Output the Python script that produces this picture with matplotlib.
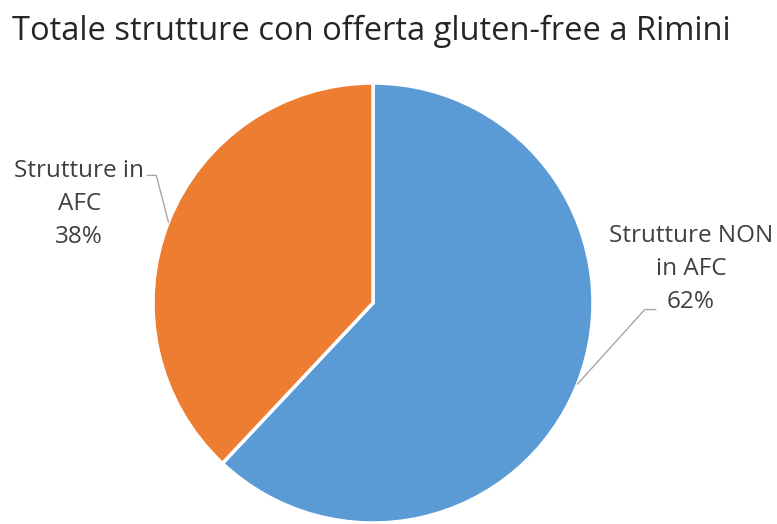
import numpy as np
import matplotlib
matplotlib.use("Agg")
import matplotlib.pyplot as plt

plt.rcParams['font.family'] = ['Open Sans', 'DejaVu Sans']

# dati
categorie = ['Strutture NON\nin AFC', 'Strutture in\nAFC']
percentuali = [62, 38]
colori = ['#5B9BD5', '#ED7D31']

fig = plt.figure(figsize=(7.77, 5.24), dpi=100)
ax = fig.add_axes([0, 0, 1, 1])

wedges, _ = ax.pie(percentuali, colors=colori, startangle=90, counterclock=False,
                   wedgeprops=dict(edgecolor='white', linewidth=2.5))

# area visibile: centro torta a (373, 303) px, raggio 220 px
ax.set_xlim(-373 / 220, (777 - 373) / 220)
ax.set_ylim(-(524 - 303) / 220, 303 / 220)
ax.set_aspect('auto')
ax.axis('off')

# posizioni delle etichette (testo centrale) e gomito della linea guida
pos_testo = [(1.445, 0.155), (-1.335, 0.45)]
gomiti = [((1.285, -0.03), (1.235, -0.03)), ((-1.025, 0.58), (-0.985, 0.58))]

for w, cat, p, (tx, ty), (g1, g2) in zip(wedges, categorie, percentuali, pos_testo, gomiti):
    ang = np.deg2rad((w.theta1 + w.theta2) / 2)
    ex, ey = np.cos(ang), np.sin(ang)
    ax.text(tx, ty, f'{cat}\n{p}%', ha='center', va='center', fontsize=17.5,
            color='#404040', linespacing=1.5)
    ax.plot([g1[0], g2[0], ex], [g1[1], g2[1], ey], color='#A6A6A6', lw=1)

fig.text(12 / 777, 1 - 40 / 524, 'Totale strutture con offerta gluten-free a Rimini',
         fontsize=23.5, color='#262626', ha='left', va='baseline')

fig.savefig('out.png', dpi=100)
